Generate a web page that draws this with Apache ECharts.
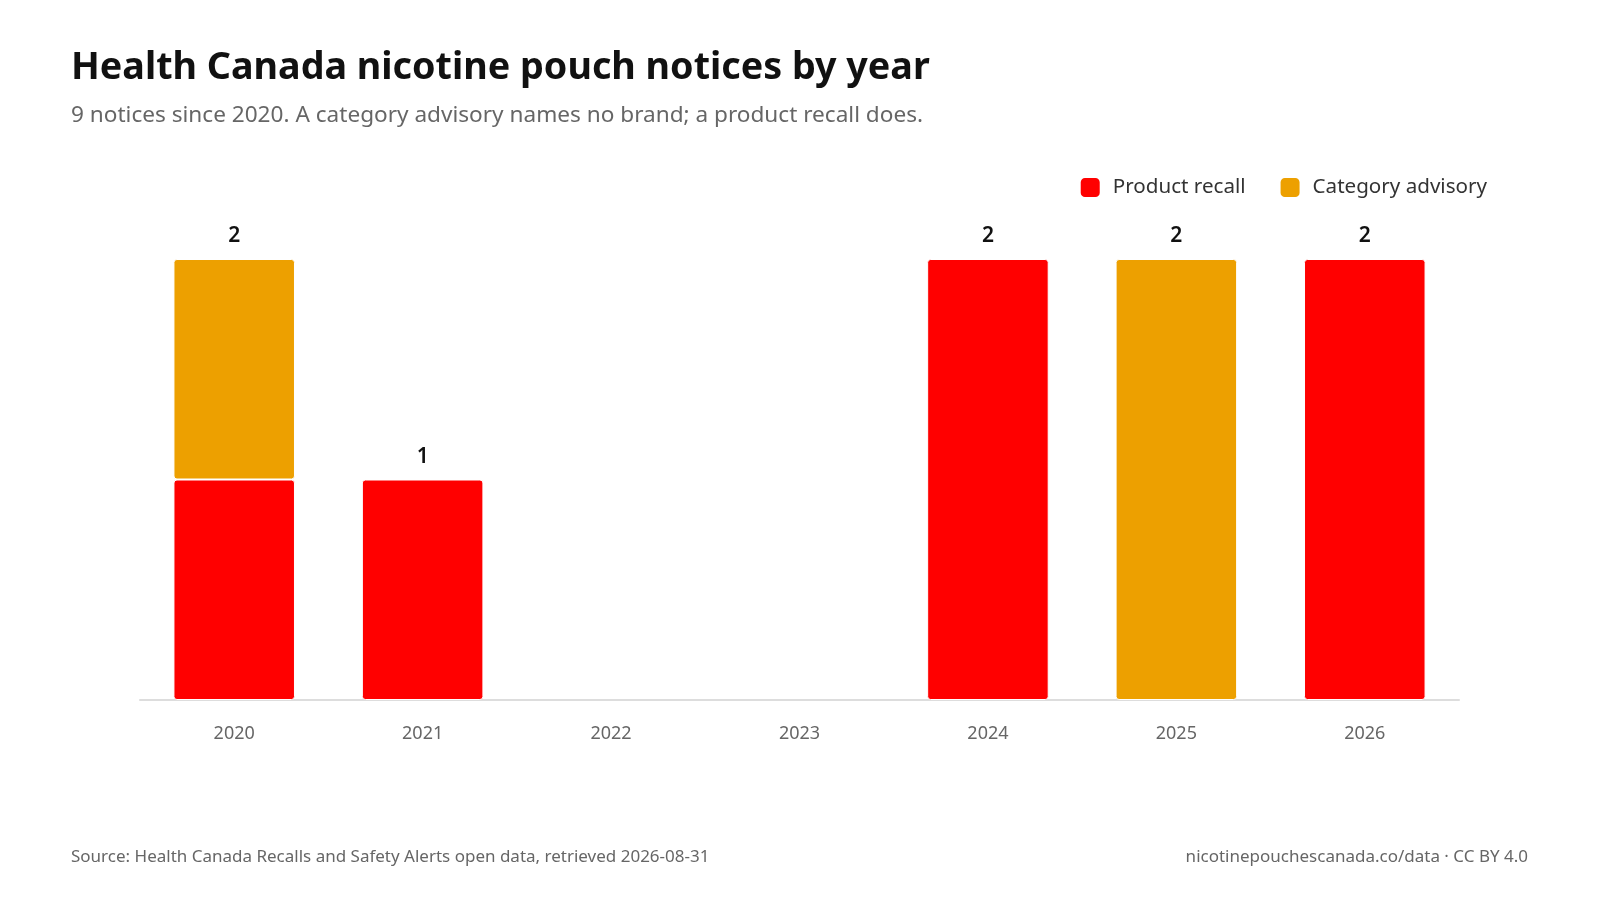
<!DOCTYPE html>
<html>
<head>
<meta charset="utf-8">
<script src="https://cdn.jsdelivr.net/npm/echarts@6/dist/echarts.min.js"></script>
<style>
  html, body { margin: 0; padding: 0; background: #fff; }
  #chart { width: 1600px; height: 900px; }
</style>
</head>
<body>
<div id="chart"></div>
<script>
// data
var years = ['2020', '2021', '2022', '2023', '2024', '2025', '2026'];
var productRecall = [1, 1, 0, 0, 2, 0, 2];
var categoryAdvisory = [1, 0, 0, 0, 0, 2, 0];

var totals = years.map(function (y, i) {
    return productRecall[i] + categoryAdvisory[i];
});

// zero -> no bar at all (a zero bar still draws its white border over the axis)
var noZero = function (arr) {
    return arr.map(function (v) { return v === 0 ? '-' : v; });
};

var font = '"Noto Sans", "Open Sans", sans-serif';

var myChart = echarts.init(document.getElementById('chart'));

var barStyle = function (color) {
    return {
        color: color,
        borderRadius: 3,
        borderColor: '#fff',
        borderWidth: 1
    };
};

var option = {
    backgroundColor: '#fff',
    textStyle: { fontFamily: font },
    title: [{
        text: 'Health Canada nicotine pouch notices by year',
        left: 66,
        top: 44,
        textStyle: { fontSize: 37.7, fontWeight: 'bold', color: '#111', fontFamily: font }
    }, {
        text: '9 notices since 2020. A category advisory names no brand; a product recall does.',
        left: 66,
        top: 99,
        textStyle: { fontSize: 22.6, fontWeight: 'normal', color: '#666', fontFamily: font }
    }, {
        text: 'Source: Health Canada Recalls and Safety Alerts open data, retrieved 2026-08-31',
        left: 66,
        top: 844,
        textStyle: { fontSize: 17, fontWeight: 'normal', color: '#666', fontFamily: font }
    }, {
        text: 'nicotinepouchescanada.co/data · CC BY 4.0',
        right: 67,
        top: 844,
        textStyle: { fontSize: 17, fontWeight: 'normal', color: '#666', fontFamily: font }
    }],
    legend: {
        data: ['Product recall', 'Category advisory'],
        right: 108,
        top: 171,
        icon: 'roundRect',
        itemWidth: 21,
        itemHeight: 21,
        itemGap: 33,
        textStyle: { fontSize: 20.6, color: '#333', fontFamily: font, padding: [0, 0, 0, 7] }
    },
    grid: {
        left: 140,
        right: 141,
        top: 259,
        bottom: 200
    },
    xAxis: {
        type: 'category',
        data: years,
        axisLine: { lineStyle: { color: '#ddd', width: 2 } },
        axisTick: { show: false },
        axisLabel: { fontSize: 18, color: '#666', margin: 25, fontFamily: font }
    },
    yAxis: {
        type: 'value',
        min: 0,
        max: 2,
        show: false,
        splitLine: { show: false }
    },
    series: [{
        name: 'Product recall',
        type: 'bar',
        stack: 'n',
        barCategoryGap: '35.5%',
        itemStyle: barStyle('#FF0000'),
        data: noZero(productRecall)
    }, {
        name: 'Category advisory',
        type: 'bar',
        stack: 'n',
        itemStyle: barStyle('#EDA000'),
        data: noZero(categoryAdvisory)
    }, {
        name: 'Total',
        type: 'bar',
        stack: 'n',
        itemStyle: { color: 'transparent' },
        label: {
            show: true,
            position: 'top',
            distance: 12,
            fontSize: 21,
            fontWeight: 600,
            color: '#111',
            fontFamily: font,
            formatter: function (p) {
                return totals[p.dataIndex] > 0 ? String(totals[p.dataIndex]) : '';
            }
        },
        data: years.map(function () { return 0; })
    }]
};

myChart.setOption(option);
</script>
</body>
</html>
